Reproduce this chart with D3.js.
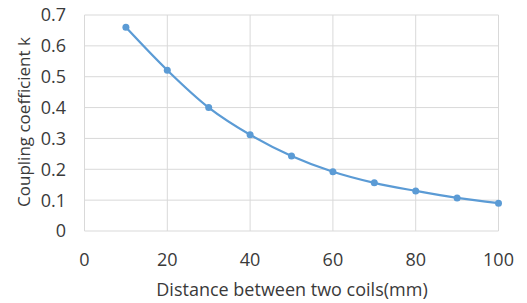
<!DOCTYPE html>
<html lang="en">
<head>
<meta charset="utf-8">
<title>Coupling coefficient vs distance</title>
<script src="https://d3js.org/d3.v7.min.js"></script>
<style>
  body { margin: 0; background: #fff; }
  text { font-family: "Open Sans", sans-serif; }
</style>
</head>
<body>
<script>
// data
const distance = [10, 20, 30, 40, 50, 60, 70, 80, 90, 100];
const coupling = [0.66, 0.521, 0.40, 0.312, 0.243, 0.192, 0.156, 0.130, 0.107, 0.090];
const xTicks = [0, 20, 40, 60, 80, 100];
const yTicks = [0, 0.1, 0.2, 0.3, 0.4, 0.5, 0.6, 0.7];

const width = 527, height = 303;
const plotLeft = 84.5, plotRight = 498.5, plotTop = 15, plotBottom = 231;

const svg = d3.select("body").append("svg")
  .attr("width", width)
  .attr("height", height);

const x = d3.scaleLinear().domain([0, 100]).range([plotLeft, plotRight]);
const y = d3.scaleLinear().domain([0, 0.7]).range([plotBottom, plotTop]);

// gridlines
svg.append("g").selectAll("line")
  .data(yTicks).enter().append("line")
  .attr("x1", plotLeft).attr("x2", plotRight)
  .attr("y1", d => y(d)).attr("y2", d => y(d))
  .attr("stroke", "#d9d9d9").attr("stroke-width", 1);

svg.append("g").selectAll("line")
  .data(xTicks).enter().append("line")
  .attr("x1", d => x(d)).attr("x2", d => x(d))
  .attr("y1", plotTop).attr("y2", plotBottom)
  .attr("stroke", "#d9d9d9").attr("stroke-width", 1);

// tick labels
svg.append("g").selectAll("text")
  .data(yTicks).enter().append("text")
  .attr("x", 66)
  .attr("y", d => y(d))
  .attr("dy", "0.36em")
  .attr("text-anchor", "end")
  .style("font-size", "18px")
  .style("fill", "#3a3a3a")
  .text(d => d3.format("")(d));

svg.append("g").selectAll("text")
  .data(xTicks).enter().append("text")
  .attr("x", d => x(d))
  .attr("y", 260)
  .attr("dy", "0.36em")
  .attr("text-anchor", "middle")
  .style("font-size", "18px")
  .style("fill", "#3a3a3a")
  .text(d => d);

// axis titles
svg.append("text")
  .attr("x", 292)
  .attr("y", 290)
  .attr("dy", "0.36em")
  .attr("text-anchor", "middle")
  .style("font-size", "18px")
  .style("fill", "#3a3a3a")
  .text("Distance between two coils(mm)");

svg.append("text")
  .attr("transform", "translate(24,122) rotate(-90)")
  .attr("dy", "0.36em")
  .attr("text-anchor", "middle")
  .style("font-size", "17px")
  .style("fill", "#3a3a3a")
  .text("Coupling coefficient k");

// series
const pts = distance.map((d, i) => [d, coupling[i]]);
const line = d3.line()
  .x(d => x(d[0]))
  .y(d => y(d[1]))
  .curve(d3.curveCatmullRom.alpha(0.5));

svg.append("path")
  .datum(pts)
  .attr("fill", "none")
  .attr("stroke", "#5b9bd5")
  .attr("stroke-width", 2.25)
  .attr("d", line);

svg.append("g").selectAll("circle")
  .data(pts).enter().append("circle")
  .attr("cx", d => x(d[0]))
  .attr("cy", d => y(d[1]))
  .attr("r", 3.5)
  .attr("fill", "#5b9bd5");
</script>
</body>
</html>
